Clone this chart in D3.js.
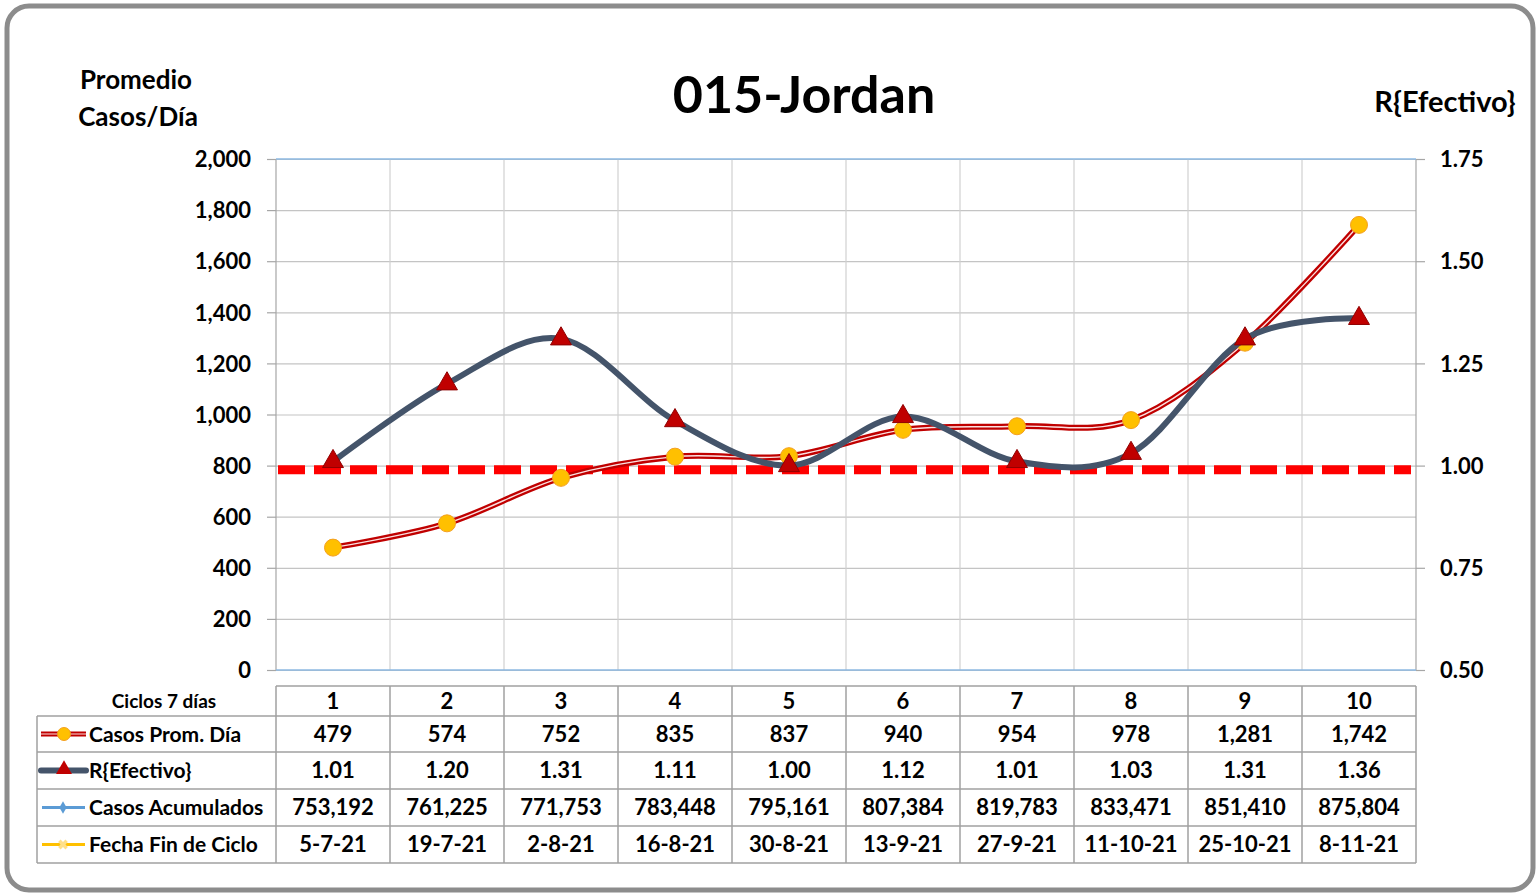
<!DOCTYPE html>
<html>
<head>
<meta charset="utf-8">
<script src="https://cdn.jsdelivr.net/npm/d3@7"></script>
<style>
  body { margin: 0; background: #fff; }
  svg text { font-family: Lato, "Noto Sans", sans-serif; font-weight: bold; fill: #000; }
</style>
</head>
<body>
<div id="chart"></div>
<script>
// data
var ciclos = [1, 2, 3, 4, 5, 6, 7, 8, 9, 10];
var casosProm = [479, 574, 752, 835, 837, 940, 954, 978, 1281, 1742];
var rEfectivo = [1.01, 1.20, 1.31, 1.11, 1.00, 1.12, 1.01, 1.03, 1.31, 1.36];
var casosAcum = [753192, 761225, 771753, 783448, 795161, 807384, 819783, 833471, 851410, 875804];
var fechaFin = ["5-7-21", "19-7-21", "2-8-21", "16-8-21", "30-8-21", "13-9-21", "27-9-21", "11-10-21", "25-10-21", "8-11-21"];
var leftTicks = [0, 200, 400, 600, 800, 1000, 1200, 1400, 1600, 1800, 2000];
var rightTicks = [0.50, 0.75, 1.00, 1.25, 1.50, 1.75];
var refLine = 0.99;   // dashed red line just under R = 1

var W = 1537, H = 893;
var plot = {left: 276, right: 1416, top: 159, bottom: 670};

var svg = d3.select("#chart").append("svg")
  .attr("width", W).attr("height", H);

// outer frame
svg.append("rect")
  .attr("x", 7).attr("y", 6).attr("width", 1526).attr("height", 884)
  .attr("rx", 22).attr("ry", 22)
  .attr("fill", "#fff").attr("stroke", "#8c8c8c").attr("stroke-width", 5);

// scales
var x = d3.scaleBand().domain(ciclos).range([plot.left, plot.right]);
var cx = function(d) { return x(d) + x.bandwidth() / 2; };
var yL = d3.scaleLinear().domain([0, 2000]).range([plot.bottom, plot.top]);
var yR = d3.scaleLinear().domain([0.5, 1.75]).range([plot.bottom, plot.top]);

// horizontal gridlines
svg.append("g")
  .attr("transform", "translate(" + plot.left + ",0)")
  .call(d3.axisLeft(yL).tickValues(leftTicks).tickSize(-(plot.right - plot.left)).tickFormat(""))
  .call(function(g) { g.select(".domain").remove(); })
  .selectAll("line").attr("stroke", "#c4c4c4").attr("stroke-width", 1.2);

// vertical gridlines at category boundaries
var bounds = ciclos.map(function(d) { return x(d); }).concat([plot.right]);
svg.append("g").selectAll("line").data(bounds).enter().append("line")
  .attr("x1", function(d) { return d; }).attr("x2", function(d) { return d; })
  .attr("y1", plot.top).attr("y2", plot.bottom)
  .attr("stroke", function(d, i) { return (i === 0 || i === bounds.length - 1) ? "#a6a6a6" : "#d0d0d0"; })
  .attr("stroke-width", 1.2);

// light blue top/bottom lines
[0, 2000].forEach(function(v) {
  svg.append("line")
    .attr("x1", plot.left).attr("x2", plot.right)
    .attr("y1", yL(v)).attr("y2", yL(v))
    .attr("stroke", "#8db8e2").attr("stroke-width", 1.5);
});

// left axis
var gL = svg.append("g")
  .attr("transform", "translate(" + plot.left + ",0)")
  .call(d3.axisLeft(yL).tickValues(leftTicks).tickSize(9).tickPadding(16).tickFormat(d3.format(",")));
gL.select(".domain").remove();
gL.selectAll("line").attr("stroke", "#a6a6a6").attr("stroke-width", 1.2);
gL.selectAll("text").style("font-size", "22px").attr("dy", "0.35em");

// right axis
var gR = svg.append("g")
  .attr("transform", "translate(" + plot.right + ",0)")
  .call(d3.axisRight(yR).tickValues(rightTicks).tickSize(9).tickPadding(15).tickFormat(d3.format(".2f")));
gR.select(".domain").remove();
gR.selectAll("line").attr("stroke", "#a6a6a6").attr("stroke-width", 1.2);
gR.selectAll("text").style("font-size", "22px").attr("dy", "0.35em");

// dashed reference line
svg.append("line")
  .attr("x1", plot.left + 2).attr("x2", plot.right - 5)
  .attr("y1", yR(refLine)).attr("y2", yR(refLine))
  .attr("stroke", "#ff0000").attr("stroke-width", 9)
  .attr("stroke-dasharray", "27,9");

var smooth = d3.curveCatmullRom.alpha(0);

// Casos Prom. Dia line (double red line)
var lineCasos = d3.line()
  .x(function(d, i) { return cx(ciclos[i]); })
  .y(function(d) { return yL(d); })
  .curve(smooth);
svg.append("path").datum(casosProm).attr("d", lineCasos)
  .attr("fill", "none").attr("stroke", "#c00000").attr("stroke-width", 6);
svg.append("path").datum(casosProm).attr("d", lineCasos)
  .attr("fill", "none").attr("stroke", "#fbe0e0").attr("stroke-width", 1.4);
svg.append("g").selectAll("circle").data(casosProm).enter().append("circle")
  .attr("cx", function(d, i) { return cx(ciclos[i]); })
  .attr("cy", function(d) { return yL(d); })
  .attr("r", 8.5)
  .attr("fill", "#ffc000").attr("stroke", "#f4a020").attr("stroke-width", 1);

// R{Efectivo} line
var lineR = d3.line()
  .x(function(d, i) { return cx(ciclos[i]); })
  .y(function(d) { return yR(d); })
  .curve(smooth);
svg.append("path").datum(rEfectivo).attr("d", lineR)
  .attr("fill", "none").attr("stroke", "#44546a").attr("stroke-width", 6);
var tri = d3.symbol().type(d3.symbolTriangle).size(190);
svg.append("g").selectAll("path").data(rEfectivo).enter().append("path")
  .attr("d", tri)
  .attr("transform", function(d, i) { return "translate(" + cx(ciclos[i]) + "," + yR(d) + ")"; })
  .attr("fill", "#c00000").attr("stroke", "#8f0000").attr("stroke-width", 1);

// titles
svg.append("text").attr("x", 804).attr("y", 113).attr("text-anchor", "middle")
  .style("font-size", "52px").text("015-Jordan");
svg.append("text").attr("x", 136).attr("y", 89).attr("text-anchor", "middle")
  .style("font-size", "26px").text("Promedio");
svg.append("text").attr("x", 138).attr("y", 126).attr("text-anchor", "middle")
  .style("font-size", "26px").text("Casos/Día");
svg.append("text").attr("x", 1445).attr("y", 112).attr("text-anchor", "middle")
  .style("font-size", "29px").text("R{Efectivo}");

// data table
var rowsY = [686, 716, 752, 789, 826, 863];
var tLeft = 37;
var tbl = svg.append("g");
var borderCol = "#a0a0a0";
tbl.append("line").attr("x1", plot.left).attr("x2", plot.right)
  .attr("y1", rowsY[0]).attr("y2", rowsY[0]).attr("stroke", borderCol).attr("stroke-width", 1.5);
rowsY.slice(1).forEach(function(yy) {
  tbl.append("line").attr("x1", tLeft).attr("x2", plot.right)
    .attr("y1", yy).attr("y2", yy).attr("stroke", borderCol).attr("stroke-width", 1.5);
});
tbl.append("line").attr("x1", tLeft).attr("x2", tLeft)
  .attr("y1", rowsY[1]).attr("y2", rowsY[5]).attr("stroke", borderCol).attr("stroke-width", 1.5);
bounds.forEach(function(bx) {
  tbl.append("line").attr("x1", bx).attr("x2", bx)
    .attr("y1", rowsY[0]).attr("y2", rowsY[5]).attr("stroke", borderCol).attr("stroke-width", 1.5);
});

var fmtInt = d3.format(",");
var fmtR = d3.format(".2f");
var rows = [
  ciclos.map(String),
  casosProm.map(fmtInt),
  rEfectivo.map(fmtR),
  casosAcum.map(fmtInt),
  fechaFin
];
rows.forEach(function(vals, r) {
  var mid = (rowsY[r] + rowsY[r + 1]) / 2;
  tbl.append("g").selectAll("text").data(vals).enter().append("text")
    .attr("x", function(d, i) { return cx(ciclos[i]); })
    .attr("y", mid).attr("dy", "0.36em")
    .attr("text-anchor", "middle")
    .style("font-size", "22px")
    .text(function(d) { return d; });
});

tbl.append("text").attr("x", 164).attr("y", (rowsY[0] + rowsY[1]) / 2).attr("dy", "0.36em")
  .attr("text-anchor", "middle").style("font-size", "19px").text("Ciclos 7 días");

// legend keys inside the table
var legend = [
  {name: "Casos Prom. Día", key: "casos"},
  {name: "R{Efectivo}", key: "r"},
  {name: "Casos Acumulados", key: "acum"},
  {name: "Fecha Fin de Ciclo", key: "fecha"}
];
legend.forEach(function(l, i) {
  var mid = (rowsY[i + 1] + rowsY[i + 2]) / 2;
  var g = tbl.append("g");
  if (l.key === "casos") {
    g.append("line").attr("x1", 41).attr("x2", 86).attr("y1", mid).attr("y2", mid)
      .attr("stroke", "#c00000").attr("stroke-width", 5);
    g.append("line").attr("x1", 41).attr("x2", 86).attr("y1", mid).attr("y2", mid)
      .attr("stroke", "#fbe0e0").attr("stroke-width", 1.2);
    g.append("circle").attr("cx", 64).attr("cy", mid).attr("r", 6.5)
      .attr("fill", "#ffc000").attr("stroke", "#f4a020");
  } else if (l.key === "r") {
    g.append("line").attr("x1", 41).attr("x2", 86).attr("y1", mid).attr("y2", mid)
      .attr("stroke", "#44546a").attr("stroke-width", 6).attr("stroke-linecap", "round");
    g.append("path").attr("d", d3.symbol().type(d3.symbolTriangle).size(110))
      .attr("transform", "translate(64," + (mid - 1) + ")")
      .attr("fill", "#c00000");
  } else if (l.key === "acum") {
    g.append("line").attr("x1", 42).attr("x2", 85).attr("y1", mid).attr("y2", mid)
      .attr("stroke", "#5b9bd5").attr("stroke-width", 3);
    g.append("path").attr("d", d3.symbol().type(d3.symbolDiamond).size(45))
      .attr("transform", "translate(63," + mid + ")")
      .attr("fill", "#5b9bd5");
  } else {
    g.append("line").attr("x1", 42).attr("x2", 85).attr("y1", mid).attr("y2", mid)
      .attr("stroke", "#ffc000").attr("stroke-width", 3);
    g.append("path").attr("d", d3.symbol().type(d3.symbolCross).size(60))
      .attr("transform", "translate(63," + mid + ") rotate(45)")
      .attr("fill", "#ffe08a");
  }
  g.append("text").attr("x", 89).attr("y", mid).attr("dy", "0.36em")
    .style("font-size", "21px").text(l.name);
});
</script>
</body>
</html>
